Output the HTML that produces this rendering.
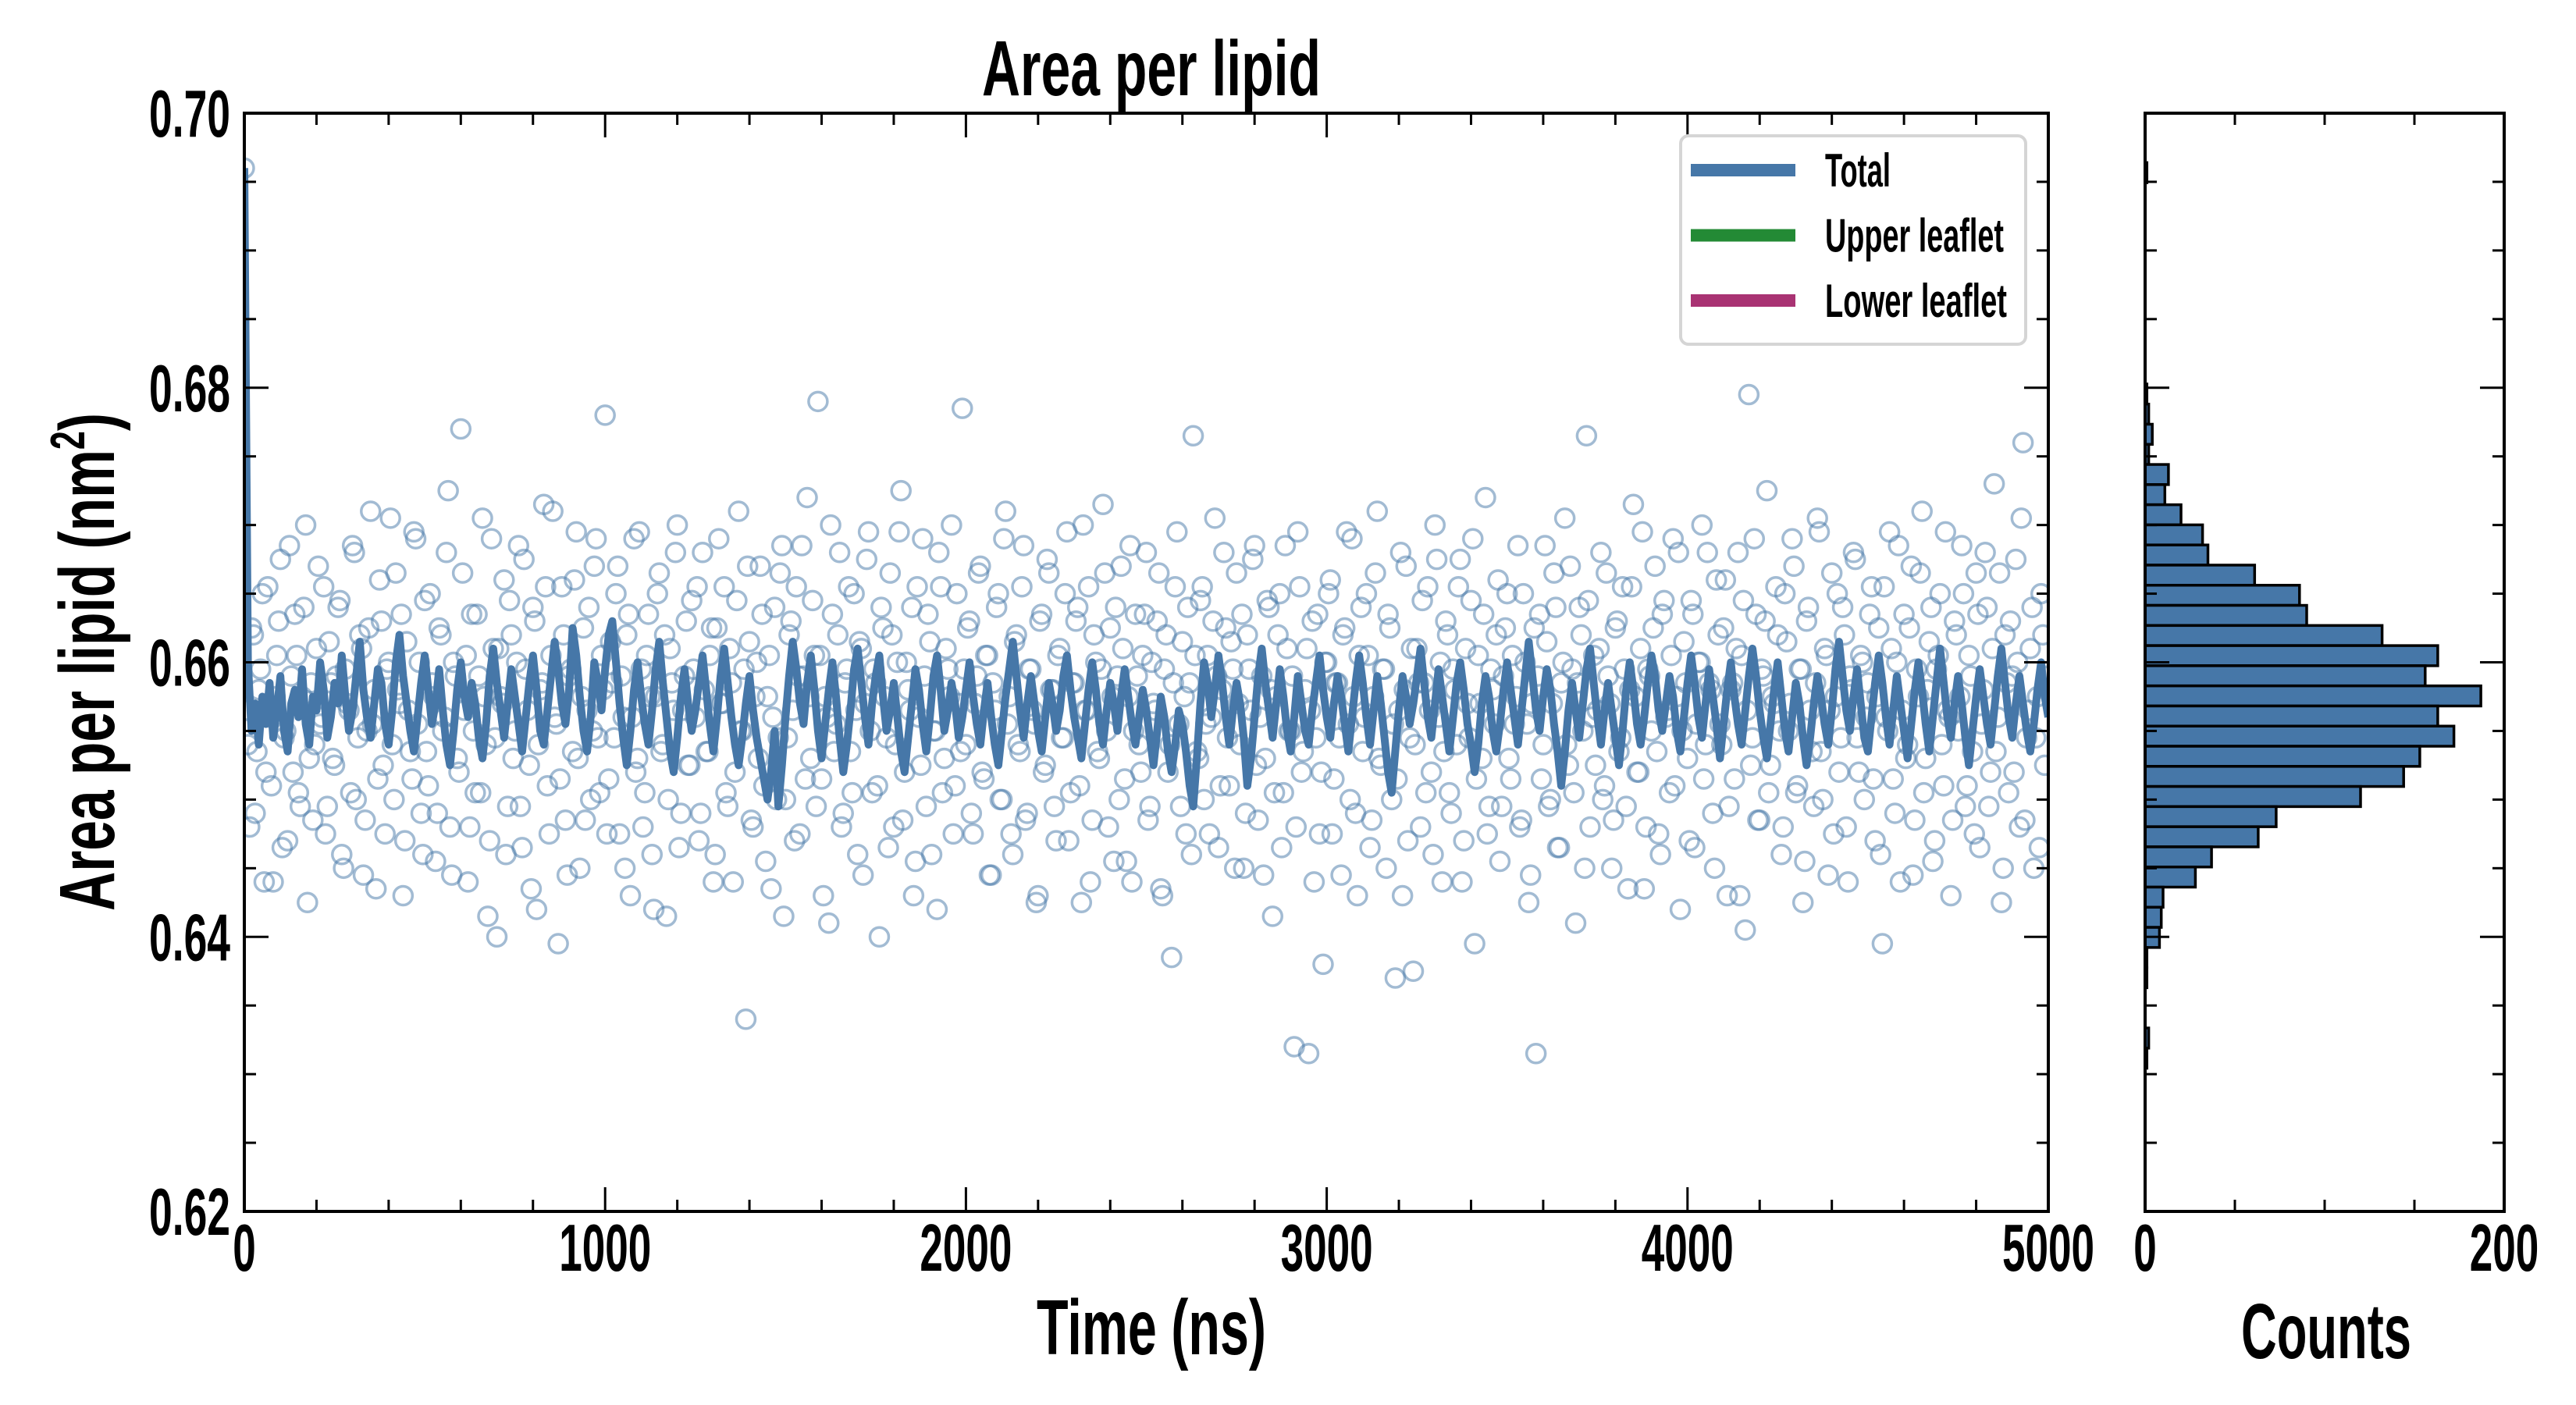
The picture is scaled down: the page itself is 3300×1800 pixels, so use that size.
<!DOCTYPE html>
<html><head><meta charset="utf-8"><style>
html,body{margin:0;padding:0;background:#fff;}
svg{display:block;font-family:"Liberation Sans",sans-serif;font-weight:bold;}
</style></head><body>
<svg id="chart" xmlns="http://www.w3.org/2000/svg" width="3300" height="1800" viewBox="0 0 3300 1800"></svg>
<script>
// ---- data ----
// running-average line, value = 0.645 + n/2000, evenly spaced over 0..5000 ns
const lineValues = [102,30,20,24,18,25,21,27,19,23,28,20,17,24,26,22,29,21,18,25,23,30,26,19,22,
27,24,31,25,20,23,28,33,26,22,19,24,29,27,21,18,23,30,34,28,24,20,17,22,27,
31,26,21,24,29,23,18,15,20,26,30,25,22,27,24,19,16,21,28,32,27,23,19,24,29,
25,21,17,22,27,31,26,20,18,23,28,33,29,24,21,26,35,31,25,20,17,22,30,27,23,
29,34,36,30,24,19,15,20,26,30,25,21,18,23,29,33,27,22,17,14,19,25,29,24,20,
23,27,31,26,21,17,22,28,32,27,22,18,15,19,24,28,23,19,16,13,10,14,20,9,15,
22,28,33,29,24,21,27,31,26,20,16,21,26,30,25,19,14,18,23,29,32,27,22,18,24,
28,31,25,20,23,27,22,17,14,19,24,29,26,21,17,22,28,31,26,20,23,27,24,19,22,
26,30,25,21,18,23,27,22,18,15,20,25,29,33,28,23,19,24,28,24,20,17,22,27,24,
20,23,28,31,26,22,19,16,21,26,30,26,21,18,23,27,24,20,25,29,25,21,18,22,26,
23,19,15,20,25,22,17,14,18,23,21,17,12,9,16,24,30,27,22,26,31,27,22,18,23,
27,24,19,12,16,22,28,32,27,23,19,24,29,25,20,17,22,28,24,20,18,23,27,31,26,
22,19,24,28,25,21,17,22,27,31,27,22,18,23,28,24,19,14,11,17,23,28,25,21,24,
28,32,27,22,19,24,29,25,21,17,22,27,30,26,21,18,14,18,24,28,25,20,17,21,26,
30,26,22,18,23,28,33,28,23,20,25,29,26,21,17,12,17,23,27,23,19,24,29,32,27,
22,18,23,27,23,19,15,20,26,30,26,21,18,22,27,31,28,23,20,24,28,25,20,17,22,
27,31,27,22,19,24,29,25,21,16,21,26,30,25,21,18,23,28,32,28,23,19,16,21,26,
30,25,20,17,22,27,24,19,15,19,24,28,25,21,18,23,29,33,28,23,20,25,29,24,19,
17,22,27,31,27,22,18,23,28,24,20,16,21,26,30,26,21,17,22,27,32,27,22,19,24,
28,24,19,15,20,25,29,25,21,18,23,28,32,27,22,19,24,28,24,20,17,21,26,30,25,22];
// raw samples, value = 0.6 + n/2000; set A at t = i*10 ns
const scatterValues = [192,108,125,98,116,130,104,112,88,121,135,109,94,118,127,101,115,140,106,97,122,111,131,99,117,
105,128,92,119,113,137,100,124,89,110,142,116,103,126,95,120,108,133,114,86,123,107,139,111,98,
129,102,117,91,125,110,136,96,120,106,154,113,88,127,101,118,141,108,94,122,80,115,132,99,124,
110,137,93,119,105,128,84,116,143,102,121,112,79,131,97,118,107,139,90,125,113,100,134,109,121,
156,103,117,130,95,112,124,86,138,106,119,101,127,92,115,133,108,83,122,113,140,98,118,105,129,
112,94,136,107,121,88,125,114,131,99,117,104,142,110,68,123,96,120,134,102,115,87,128,109,137,
100,124,113,131,95,118,144,106,121,158,103,115,82,127,111,136,98,119,107,130,92,122,114,139,101,
117,80,125,109,133,96,120,145,104,116,128,91,112,138,99,123,110,84,131,106,119,140,102,114,157,
108,126,95,118,134,103,121,89,113,130,100,142,115,92,124,107,137,98,119,111,86,127,105,133,116,
94,122,109,139,101,117,128,85,113,131,97,120,106,143,110,125,91,118,134,103,115,88,127,108,121,
136,99,114,126,87,119,104,77,131,111,123,95,117,153,107,129,100,121,112,141,93,116,125,102,119,
133,108,90,124,113,137,97,118,106,128,83,115,130,101,122,110,64,139,104,116,63,126,109,95,76,
120,132,103,117,89,125,111,138,98,121,107,130,93,115,142,105,119,127,100,74,113,86,134,109,75,
122,96,117,131,104,140,112,88,126,101,119,108,135,94,114,129,79,121,106,144,99,116,124,91,118,
130,103,111,137,97,120,85,114,63,127,108,123,100,133,93,117,141,105,119,82,128,110,153,96,121,
113,136,102,118,90,125,107,131,99,116,143,104,122,87,119,110,134,95,127,112,101,138,115,84,123,
106,129,93,120,140,108,117,98,132,111,125,86,116,103,136,121,81,159,109,127,97,118,145,105,114,
124,92,130,110,138,101,119,85,126,113,99,141,107,122,89,133,115,104,128,96,118,136,109,121,100,
117,131,94,125,79,112,139,103,120,88,127,108,134,97,115,142,106,123,91,119,130,102,113,86,126,
110,137,99,121,107,133,93,116,128,104,146,112,85,124,101,118,135,96,152,109,122,90,115,130,105,118];
// set B at t = i*10 + 5 ns
const scatterValuesB = [113,96,124,107,119,88,131,102,115,126,93,110,137,104,121,99,128,85,117,108,134,112,95,123,106,
118,129,90,114,101,136,109,122,97,125,111,87,132,105,119,141,100,116,127,94,113,103,138,120,92,
107,130,115,98,124,112,145,89,118,104,133,121,96,110,127,101,115,83,138,109,122,114,92,129,106,
120,99,135,113,87,126,108,117,131,95,142,111,103,124,89,119,132,106,115,97,128,110,138,101,116,
95,123,109,134,118,90,127,112,104,139,96,121,115,84,130,107,124,100,117,136,93,113,126,105,119,
131,98,116,107,125,92,138,114,101,122,88,129,110,119,134,97,115,106,127,91,121,112,100,133,83,
109,126,94,118,137,103,115,129,99,121,86,112,140,107,124,96,117,131,101,113,123,89,135,110,119,
102,128,115,93,124,108,139,97,120,113,86,131,105,118,127,92,110,136,101,122,115,95,130,107,119,
125,98,114,133,104,121,89,117,128,100,138,111,95,123,108,131,97,119,113,85,126,104,135,116,99,
121,109,130,94,117,126,102,140,113,88,124,107,119,133,96,115,128,100,122,91,137,110,118,104,127,
97,120,113,133,86,124,108,117,139,99,115,128,92,121,106,131,111,95,126,118,102,136,109,123,90,
114,127,98,119,135,105,112,89,129,116,101,124,93,137,110,118,96,131,107,122,113,88,127,104,120,
130,95,117,109,124,139,100,115,86,128,112,121,97,133,106,119,90,125,111,103,136,116,94,122,108,
117,129,101,113,92,135,120,107,124,98,116,131,88,122,109,138,103,114,127,95,119,111,132,99,125,
106,121,115,96,130,111,89,125,118,103,137,99,114,128,93,120,108,134,101,117,124,90,129,112,105,
122,100,133,114,97,126,109,119,87,131,115,104,139,96,118,125,107,92,129,113,121,102,136,110,117,
94,127,111,120,103,136,116,90,124,108,132,99,117,122,86,129,113,105,138,97,119,126,101,115,131,
110,96,123,114,134,102,119,91,128,107,117,139,100,121,113,95,130,109,124,88,116,135,104,120,112,
127,103,115,92,131,110,122,98,137,113,106,125,89,119,133,101,116,128,94,121,108,139,112,97,124,
115,130,102,118,95,127,111,136,99,122,107,133,90,117,126,104,120,141,97,113,128,109,93,124,116];
const histCounts = [1,0,0,0,0,0,0,0,0,0,0,1,2,4,2,13,11,20,32,35,61,86,90,132,163,156,187,163,172,153,144,120,73,63,37,28,10,9,8,1,1,0,0,2,1];
const histTop = 0.6964, histBin = 0.001466;
const yTicks = [0.62,0.64,0.66,0.68,0.70];
const yTickLabels = ["0.62","0.64","0.66","0.68","0.70"];
const xTicks = [0,1000,2000,3000,4000,5000];
const xTickLabels = ["0","1000","2000","3000","4000","5000"];
const hTicks = [0,200];
const hTickLabels = ["0","200"];
const legendLabels = ["Total","Upper leaflet","Lower leaflet"];
const legendColors = ["#4677a8","#238a35","#a93373"];

// ---- geometry ----
const L=313,R=2624,T=145,B=1552,HL=2748,HR=3208;
const X=t=>L+(t-0)/5000*(R-L);
const Y=v=>T+(0.70-v)/0.08*(B-T);
const HX=c=>HL+c/200*(HR-HL);
const NS="http://www.w3.org/2000/svg";
const svg=document.getElementById('chart');
function mk(tag,attrs,parent){const e=document.createElementNS(NS,tag);for(const k in attrs)e.setAttribute(k,attrs[k]);(parent||svg).appendChild(e);return e;}

const gMain=mk('g',{});


const clip=mk('clipPath',{id:'cp'});mk('rect',{x:L,y:T,width:R-L,height:B-T},clip);
const gPts=mk('g',{'clip-path':'url(#cp)'},gMain);


function addPts(arr,offset){
  const step=5000/(scatterValues.length-1);
  arr.forEach((n,i)=>{
    const c=mk('circle',{cx:X(i*step+offset),cy:Y(0.6+n/2000),r:12,fill:'none',stroke:'#4677a8','stroke-opacity':0.5,'stroke-width':3.5},gPts);
    
    
  });
}
addPts(scatterValues,0);
addPts(scatterValuesB,5);
const lStep=5000/(lineValues.length-1);
const pts=lineValues.map((n,i)=>X(i*lStep).toFixed(1)+','+Y(0.645+n/2000).toFixed(1)).join(' ');
const pl=mk('polyline',{points:pts,fill:'none',stroke:'#4677a8','stroke-width':10,'stroke-linejoin':'round','clip-path':'url(#cp)'},gMain);



const gH=mk('g',{});


histCounts.forEach((c,j)=>{
  if(c<=0)return;
  const y0=Y(histTop-j*histBin), y1=Y(histTop-(j+1)*histBin);
  const r=mk('rect',{x:HL,y:y0,width:HX(c)-HL,height:y1-y0,fill:'#4677a8',stroke:'#000','stroke-width':3.5},gH);
  
  
});

function ticksY(x0,x1){
  for(let v=0.62;v<=0.7001;v+=0.005){
    const major=Math.abs(Math.round(v/0.02)*0.02-v)<1e-6;const len=major?31:15;const y=Y(v);
    mk('line',{x1:x0,y1:y,x2:x0+len,y2:y,stroke:'#000','stroke-width':3});
    mk('line',{x1:x1,y1:y,x2:x1-len,y2:y,stroke:'#000','stroke-width':3});
  }
}
ticksY(L,R);ticksY(HL,HR);
for(let t=0;t<=5000;t+=200){const major=t%1000===0;const len=major?31:15;const x=X(t);
  mk('line',{x1:x,y1:B,x2:x,y2:B-len,stroke:'#000','stroke-width':3});
  mk('line',{x1:x,y1:T,x2:x,y2:T+len,stroke:'#000','stroke-width':3});}
for(let c=0;c<=200;c+=50){const major=c%200===0;const len=major?31:15;const x=HX(c);
  mk('line',{x1:x,y1:B,x2:x,y2:B-len,stroke:'#000','stroke-width':3});
  mk('line',{x1:x,y1:T,x2:x,y2:T+len,stroke:'#000','stroke-width':3});}

const f1=mk('rect',{x:L,y:T,width:R-L,height:B-T,fill:'none',stroke:'#000','stroke-width':4});


const f2=mk('rect',{x:HL,y:T,width:HR-HL,height:B-T,fill:'none',stroke:'#000','stroke-width':4});



function txt(s,attrs,w){const e=mk('text',attrs);e.textContent=s;if(w){e.setAttribute('textLength',w);e.setAttribute('lengthAdjust','spacingAndGlyphs');}return e;}
const digitW=29.5;
yTicks.forEach((v,i)=>{const e=txt(yTickLabels[i],{x:295,y:Y(v)+30,'font-size':85,'text-anchor':'end'},104);
  
  });
xTicks.forEach((t,i)=>{const s=xTickLabels[i];const e=txt(s,{x:X(t),y:1628,'font-size':85,'text-anchor':'middle'},s.length*digitW);
  
  });
hTicks.forEach((c,i)=>{const s=hTickLabels[i];const e=txt(s,{x:HX(c),y:1628,'font-size':85,'text-anchor':'middle'},s.length*digitW);
  
  });

let e=txt('Area per lipid',{x:1475,y:122,'font-size':100,'text-anchor':'middle'},434);


e=txt('Time (ns)',{x:1475,y:1735,'font-size':100,'text-anchor':'middle'},294);


e=txt('Counts',{x:2980,y:1740,'font-size':100,'text-anchor':'middle'},218);


const yt=mk('text',{x:0,y:0,'font-size':100,'text-anchor':'middle',transform:'translate(146,848) rotate(-90)',textLength:638,lengthAdjust:'spacingAndGlyphs'});


yt.appendChild(document.createTextNode('Area per lipid (nm'));
const sup=mk('tspan',{dy:-38,'font-size':62},yt);sup.textContent='2';
const cl=mk('tspan',{dy:38},yt);cl.textContent=')';

const gL=mk('g',{});


mk('rect',{x:2153,y:174,width:442,height:267,rx:10,fill:'#fff',stroke:'#d5d5d5','stroke-width':4},gL);
const lw=[84,229,233];
legendLabels.forEach((s,i)=>{
  const y=218+i*83.5;
  const ln=mk('line',{x1:2166,y1:y,x2:2300,y2:y,stroke:legendColors[i],'stroke-width':16},gL);
  
  
  const t=mk('text',{x:2338,y:y+21,'font-size':60,textLength:lw[i],lengthAdjust:'spacingAndGlyphs'},gL);
  t.textContent=s;
  
  
});
</script>
</body></html>
